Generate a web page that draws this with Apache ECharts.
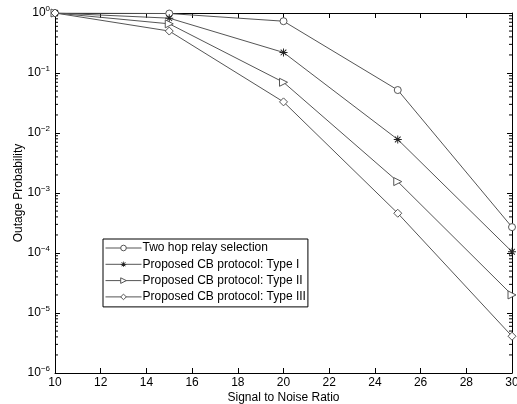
<!DOCTYPE html>
<html>
<head>
    <meta charset="utf-8" />
    <title>Outage Probability</title>
    <script src="https://cdn.jsdelivr.net/npm/echarts@6/dist/echarts.min.js"></script>
    <style>
        html, body { margin: 0; padding: 0; background: #fff; }
        #container { width: 517px; height: 404px; }
    </style>
</head>
<body>
    <div id="container"></div>
    <script>
    // 数据
    var snr = [10, 15, 20, 25, 30];
    var twoHop = [1, 0.98, 0.73, 0.052, 2.7e-4];
    var typeI = [1, 0.82, 0.22, 7.8e-3, 1.05e-4];
    var typeII = [1, 0.66, 0.07, 1.55e-3, 2.0e-5];
    var typeIII = [1, 0.5, 0.033, 4.6e-4, 4.1e-6];
    var xTicks = [10, 12, 14, 16, 18, 20, 22, 24, 26, 28, 30];
    var decades = [1e-6, 1e-5, 1e-4, 1e-3, 1e-2, 1e-1];
    var minorMul = [2, 3, 4, 5, 6, 7, 8, 9];

    var names = ['Two hop relay selection', 'Proposed CB protocol: Type I',
                 'Proposed CB protocol: Type II', 'Proposed CB protocol: Type III'];

    var minorTicks = [];
    decades.forEach(function (d) {
        minorMul.forEach(function (m) { minorTicks.push([10, d * m]); });
    });

    function pairs(ys) {
        return snr.map(function (x, i) { return [x, ys[i]]; });
    }

    var starPath = 'path://M-0.6,-5L0.6,-5L0.6,5L-0.6,5Z M-5,-0.6L5,-0.6L5,0.6L-5,0.6Z ' +
        'M-3.96,-3.11L-3.11,-3.96L3.96,3.11L3.11,3.96Z M3.11,-3.96L3.96,-3.11L-3.11,3.96L-3.96,3.11Z';

    var lineColor = '#555';
    var font = 'Liberation Sans, Arial, sans-serif';

    function lineSeries(name, ys, symbol, size, rotate, filled) {
        return {
            name: name,
            type: 'line',
            data: pairs(ys),
            symbol: symbol,
            symbolSize: size,
            symbolRotate: rotate || 0,
            showAllSymbol: true,
            lineStyle: { color: lineColor, width: 1 },
            itemStyle: filled
                ? { color: '#222', borderWidth: 0 }
                : { color: '#fff', borderColor: lineColor, borderWidth: 1 },
            emphasis: { disabled: true },
            z: 3
        };
    }

    var myChart = echarts.init(document.getElementById('container'));
    var option = {
        animation: false,
        backgroundColor: '#fff',
        grid: { left: 55, right: 5, top: 13, bottom: 31, outerBoundsMode: 'none', containLabel: false },
        legend: {
            orient: 'vertical',
            left: 103,
            top: 239,
            data: names,
            itemWidth: 36,
            itemHeight: 7,
            itemGap: 4.3,
            padding: [3, 2, 4, 2],
            borderColor: '#000',
            borderWidth: 1,
            backgroundColor: '#fff',
            selectedMode: false,
            lineStyle: { width: 1 },
            itemStyle: { borderWidth: 1 },
            textStyle: { fontSize: 12, color: '#000', fontFamily: font, padding: [0, 0, 0, -4] }
        },
        xAxis: [{
            type: 'value',
            min: 10, max: 30, interval: 2,
            name: 'Signal to Noise Ratio',
            nameLocation: 'middle',
            nameGap: 19,
            nameMoveOverlap: false,
            nameTextStyle: { fontSize: 12, color: '#000', fontFamily: font },
            axisLine: { lineStyle: { color: '#000', width: 1 } },
            axisTick: { inside: true, length: 5, lineStyle: { color: '#000' } },
            axisLabel: { fontSize: 12, color: '#000', fontFamily: font, margin: 4,
                customValues: xTicks },
            splitLine: { show: false }
        }, {
            type: 'value',
            position: 'top',
            min: 10, max: 30, interval: 2,
            axisLine: { lineStyle: { color: '#000', width: 1 } },
            axisTick: { inside: true, length: 5, lineStyle: { color: '#000' } },
            axisLabel: { show: false },
            splitLine: { show: false }
        }],
        yAxis: [{
            type: 'log',
            logBase: 10,
            min: 1e-6, max: 1,
            name: 'Outage Probability',
            nameLocation: 'middle',
            nameGap: 30,
            nameMoveOverlap: false,
            nameTextStyle: { fontSize: 12, color: '#000', fontFamily: font },
            axisLine: { show: true, lineStyle: { color: '#000', width: 1 } },
            axisTick: { inside: true, length: 5, lineStyle: { color: '#000' } },
            axisLabel: {
                margin: 5,
                color: '#000',
                fontFamily: font,
                fontSize: 12,
                formatter: function (v) {
                    var e = Math.round(Math.log10(v));
                    return '10{s|' + (e < 0 ? '\u2212' + (-e) : e) + '}';
                },
                rich: {
                    s: { fontSize: 8, fontFamily: font, color: '#000', padding: [0, 0, 8, 0] }
                }
            },
            splitLine: { show: false }
        }, {
            type: 'log',
            logBase: 10,
            min: 1e-6, max: 1,
            position: 'right',
            axisLine: { show: true, lineStyle: { color: '#000', width: 1 } },
            axisTick: { inside: true, length: 5, lineStyle: { color: '#000' } },
            axisLabel: { show: false },
            splitLine: { show: false }
        }],
        series: [
            lineSeries(names[0], twoHop, 'circle', 7, 0, false),
            lineSeries(names[1], typeI, starPath, 8, 0, true),
            lineSeries(names[2], typeII, 'triangle', 8, -90, false),
            lineSeries(names[3], typeIII, 'diamond', 8, 0, false),
            {
                type: 'custom',
                silent: true,
                clip: false,
                data: minorTicks,
                renderItem: function (params, api) {
                    var l = api.coord([10, api.value(1)]);
                    var r = api.coord([30, api.value(1)]);
                    return {
                        type: 'group',
                        children: [
                            { type: 'line', shape: { x1: l[0], y1: l[1], x2: l[0] + 3, y2: l[1] },
                              style: { stroke: '#000', lineWidth: 1 } },
                            { type: 'line', shape: { x1: r[0], y1: r[1], x2: r[0] - 3, y2: r[1] },
                              style: { stroke: '#000', lineWidth: 1 } }
                        ]
                    };
                },
                z: 1
            }
        ]
    };
    myChart.setOption(option);
    </script>
</body>
</html>
